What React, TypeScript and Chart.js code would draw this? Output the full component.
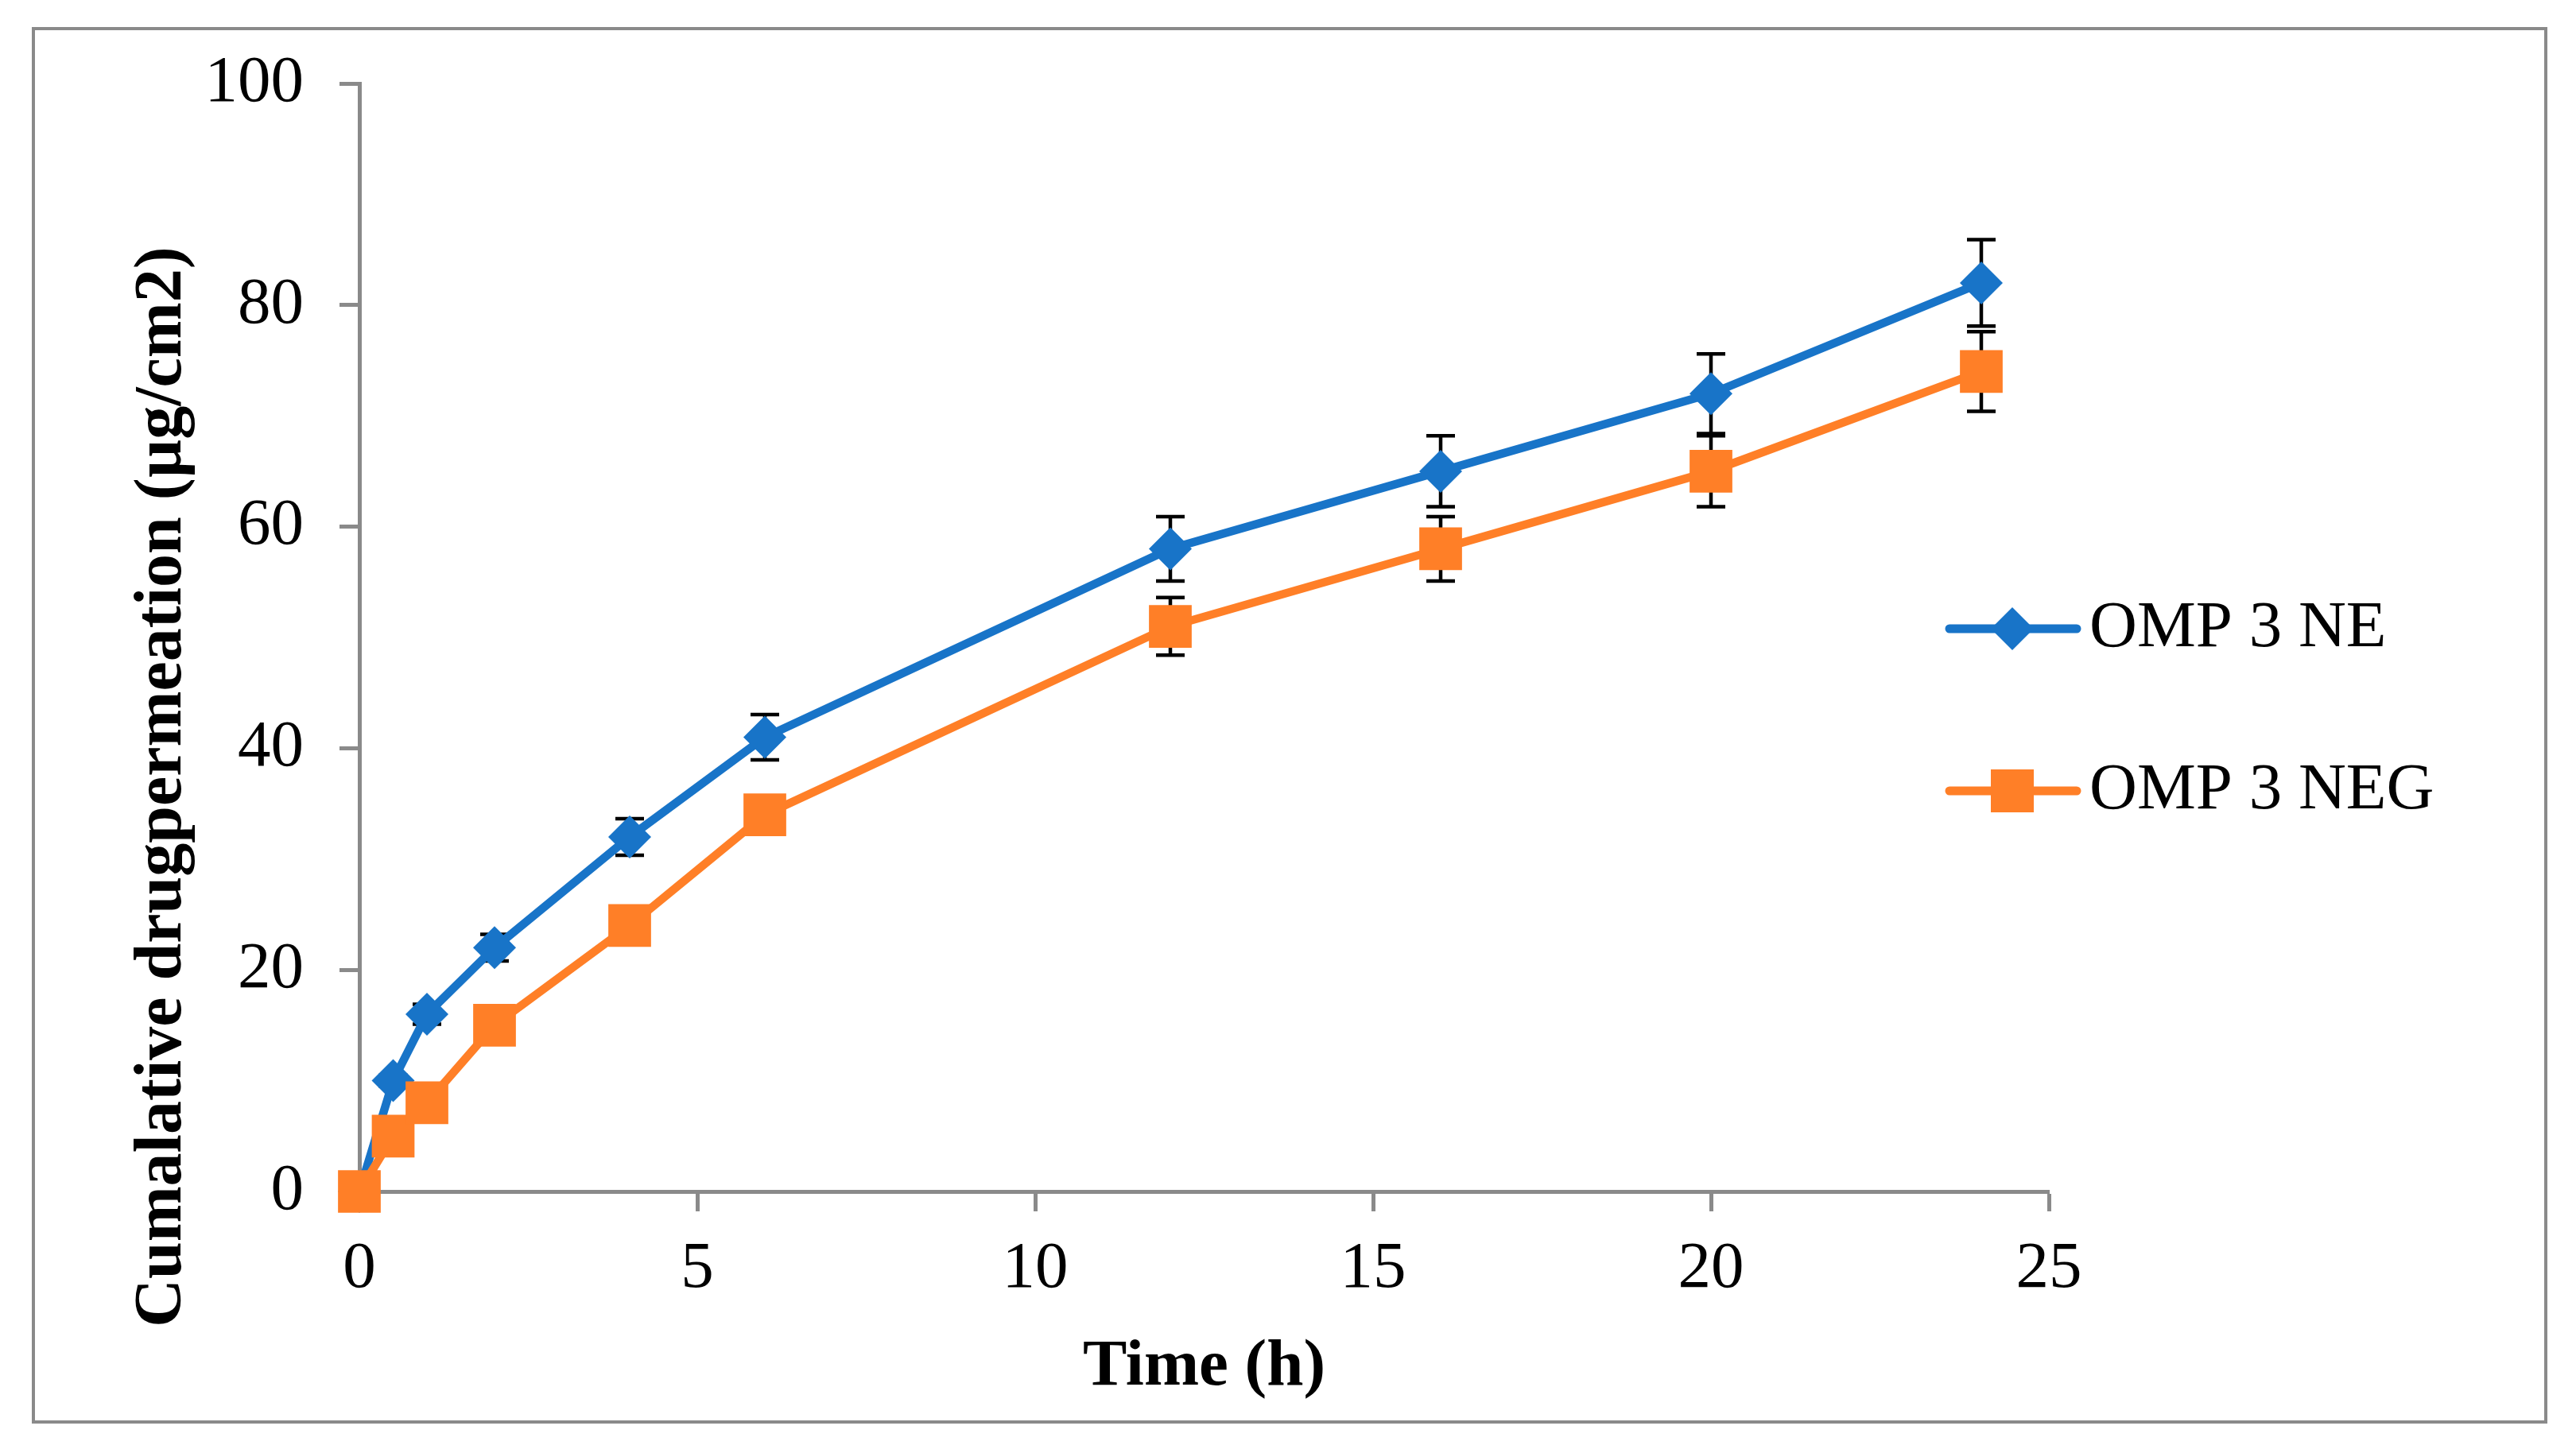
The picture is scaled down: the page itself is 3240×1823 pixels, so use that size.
import React, { useEffect, useRef } from "react";
import { Chart, registerables } from "chart.js";

Chart.register(...registerables);

// ---- data ----
const timeHours = [0, 0.5, 1, 2, 4, 6, 12, 16, 20, 24];
const neValues = [0, 10, 16, 22, 32, 41, 58, 65, 72, 82];
const negValues = [0, 5, 8, 15, 24, 34, 51, 58, 65, 74];
const neErrors = [0, 0.5, 0.9, 1.2, 1.65, 2.05, 2.9, 3.2, 3.6, 3.9];
const negErrors = [0, 0.5, 0.6, 0.9, 1.2, 1.5, 2.6, 2.9, 3.2, 3.6];
const seriesNames = ["OMP 3 NE", "OMP 3 NEG"];
const xTickValues = [0, 5, 10, 15, 20, 25];
const yTickValues = [0, 20, 40, 60, 80, 100];
const xTitle = "Time (h)";
const yTitle = "Cumalative drugpermeation (µg/cm2)";

const BLUE = "#1874C8";
const ORANGE = "#FF7F27";
const GRAY = "#8A8A8A";
const FONT = "'Liberation Serif', 'Times New Roman', Times, serif";

const W = 3240;
const H = 1823;

function drawMarker(ctx: CanvasRenderingContext2D, style: string, x: number, y: number, half: number, color: string) {
  ctx.save();
  ctx.fillStyle = color;
  ctx.beginPath();
  if (style === "rectRot") {
    ctx.moveTo(x - half, y);
    ctx.lineTo(x, y - half);
    ctx.lineTo(x + half, y);
    ctx.lineTo(x, y + half);
    ctx.closePath();
  } else {
    ctx.rect(x - half, y - half, half * 2, half * 2);
  }
  ctx.fill();
  ctx.restore();
}

const framePlugin = {
  id: "frame",
  beforeDraw(chart: any) {
    const ctx = chart.ctx;
    ctx.save();
    ctx.fillStyle = "#ffffff";
    ctx.fillRect(0, 0, chart.width, chart.height);
    ctx.strokeStyle = GRAY;
    ctx.lineWidth = 4;
    ctx.strokeRect(42, 36, 3202 - 42, 1789 - 36);
    ctx.restore();
  },
};

const errorBarPlugin = {
  id: "errorBars",
  beforeDatasetsDraw(chart: any) {
    const ctx = chart.ctx;
    const xs = chart.scales.x;
    const ys = chart.scales.y;
    const errs = [neErrors, negErrors];
    ctx.save();
    ctx.strokeStyle = "#000000";
    ctx.lineWidth = 4.5;
    chart.data.datasets.forEach((ds: any, di: number) => {
      const e = errs[di];
      ds.data.forEach((p: any, i: number) => {
        if (!e[i]) return;
        const px = xs.getPixelForValue(p.x);
        const top = ys.getPixelForValue(p.y + e[i]);
        const bot = ys.getPixelForValue(p.y - e[i]);
        const cap = 18;
        ctx.beginPath();
        ctx.moveTo(px, top);
        ctx.lineTo(px, bot);
        ctx.moveTo(px - cap, top);
        ctx.lineTo(px + cap, top);
        ctx.moveTo(px - cap, bot);
        ctx.lineTo(px + cap, bot);
        ctx.stroke();
      });
    });
    ctx.restore();
  },
};

const overlayPlugin = {
  id: "overlay",
  afterDraw(chart: any) {
    const ctx = chart.ctx;
    // y axis title
    ctx.save();
    ctx.translate(205, 990);
    ctx.rotate(-Math.PI / 2);
    ctx.font = `bold 84px ${FONT}`;
    ctx.fillStyle = "#000000";
    ctx.textAlign = "center";
    ctx.textBaseline = "middle";
    ctx.fillText(yTitle, 0, 0);
    ctx.restore();

    // legend
    const rows = [791, 995];
    chart.data.datasets.forEach((ds: any, i: number) => {
      const y = rows[i];
      ctx.save();
      ctx.strokeStyle = ds.borderColor;
      ctx.lineWidth = 11;
      ctx.lineCap = "round";
      ctx.beginPath();
      ctx.moveTo(2452, y);
      ctx.lineTo(2612, y);
      ctx.stroke();
      ctx.restore();
      drawMarker(ctx, ds.pointStyle, 2531, y, 27, ds.backgroundColor);
      ctx.save();
      ctx.font = `83px ${FONT}`;
      ctx.fillStyle = "#000000";
      ctx.textAlign = "left";
      ctx.textBaseline = "middle";
      ctx.fillText(ds.label, 2628, y);
      ctx.restore();
    });
  },
};

export default function App() {
  const canvasRef = useRef<HTMLCanvasElement | null>(null);

  useEffect(() => {
    const canvas = canvasRef.current;
    if (!canvas) return;
    const gridCfg = {
      display: true,
      drawOnChartArea: false,
      drawTicks: true,
      tickLength: 25,
      tickWidth: 5,
      tickColor: GRAY,
    };
    const borderCfg = { display: true, color: GRAY, width: 5 };
    const chart = new Chart(canvas, {
      type: "line",
      data: {
        datasets: [
          {
            label: seriesNames[0],
            data: timeHours.map((t, i) => ({ x: t, y: neValues[i] })),
            borderColor: BLUE,
            backgroundColor: BLUE,
            borderWidth: 10.5,
            pointStyle: "rectRot",
            pointRadius: 27,
            pointHoverRadius: 27,
            pointBorderWidth: 0,
            pointBackgroundColor: BLUE,
            tension: 0,
            clip: false as any,
            order: 1,
          },
          {
            label: seriesNames[1],
            data: timeHours.map((t, i) => ({ x: t, y: negValues[i] })),
            borderColor: ORANGE,
            backgroundColor: ORANGE,
            borderWidth: 10.5,
            pointStyle: "rect",
            pointRadius: 38,
            pointHoverRadius: 38,
            pointBorderWidth: 0,
            pointBackgroundColor: ORANGE,
            tension: 0,
            clip: false as any,
            order: 0,
          },
        ],
      },
      options: {
        animation: false,
        responsive: false,
        devicePixelRatio: 1,
        events: [],
        layout: { padding: { left: 0, top: 105, right: W - 2577, bottom: H - 1499 - 300 } },
        plugins: {
          legend: { display: false },
          tooltip: { enabled: false },
          title: { display: false },
        },
        scales: {
          x: {
            type: "linear",
            min: xTickValues[0],
            max: xTickValues[xTickValues.length - 1],
            ticks: {
              stepSize: xTickValues[1] - xTickValues[0],
              color: "#000000",
              font: { family: FONT, size: 83, lineHeight: 1.2 },
              padding: 23,
              maxRotation: 0,
            },
            grid: gridCfg,
            border: borderCfg,
            title: {
              display: true,
              text: xTitle,
              color: "#000000",
              font: { family: FONT, size: 83, weight: "bold", lineHeight: 1 },
              padding: { top: 0, bottom: 37 },
            },
            afterFit: (s: any) => {
              s.height = 300;
            },
          },
          y: {
            type: "linear",
            min: yTickValues[0],
            max: yTickValues[yTickValues.length - 1],
            ticks: {
              stepSize: yTickValues[1] - yTickValues[0],
              color: "#000000",
              font: { family: FONT, size: 83, lineHeight: 1.2 },
              padding: 45,
            },
            grid: gridCfg,
            border: borderCfg,
            afterFit: (s: any) => {
              s.width = 452;
            },
          },
        },
      } as any,
      plugins: [framePlugin, errorBarPlugin, overlayPlugin],
    });
    return () => {
      chart.destroy();
    };
  }, []);

  return (
    <div style={{ position: "absolute", left: 0, top: 0, width: W, height: H, background: "#fff" }}>
      <canvas ref={canvasRef} width={W} height={H} style={{ width: W, height: H, display: "block" }} />
    </div>
  );
}
